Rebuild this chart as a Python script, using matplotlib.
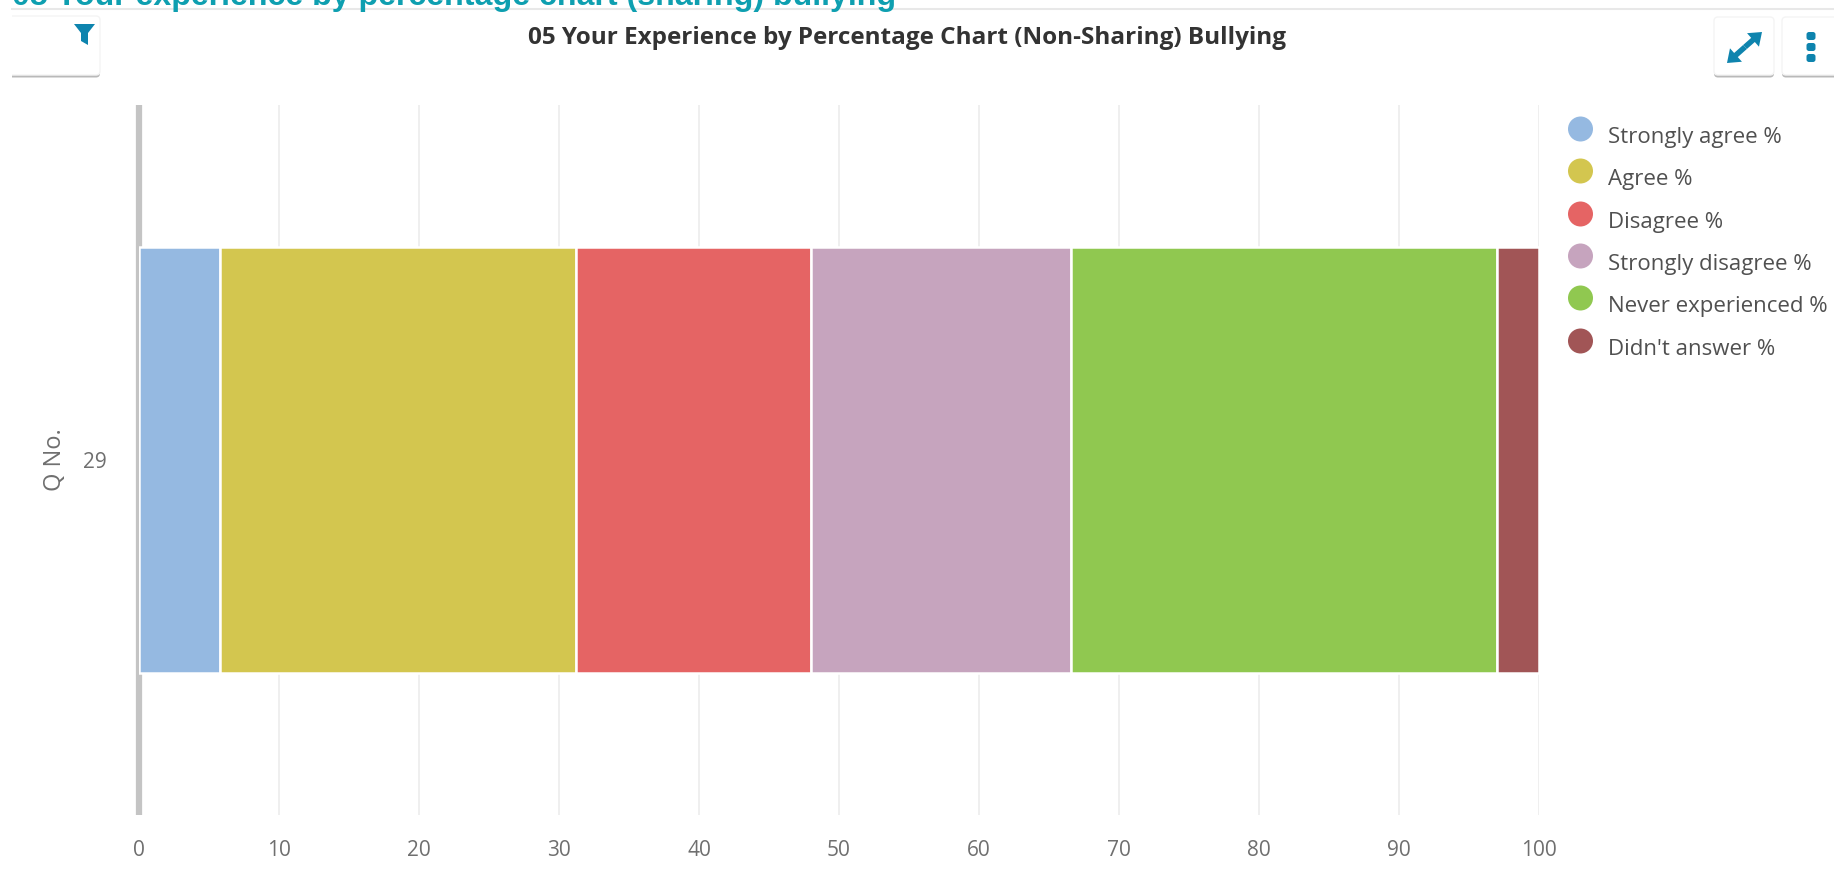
import numpy as np
from matplotlib import pyplot as plt
from matplotlib.patches import FancyBboxPatch, Polygon, FancyArrow, Circle

plt.rcParams['font.family'] = ['Open Sans', 'DejaVu Sans']

W, H = 1834, 871

categories = ['29']
series_names = ['Strongly agree %', 'Agree %', 'Disagree %', 'Strongly disagree %',
                'Never experienced %', "Didn't answer %"]
series_values = [5.8, 25.4, 16.8, 18.6, 30.4, 3.0]
series_colors = ['#95B9E1', '#D3C64F', '#E56464', '#C6A4BE', '#90C850', '#A15556']
x_ticks = list(range(0, 101, 10))

fig = plt.figure(figsize=(W / 100, H / 100), dpi=100, facecolor='white')

# page furniture, in pixel coordinates
bg = fig.add_axes([0, 0, 1, 1], zorder=0)
bg.set_xlim(0, W)
bg.set_ylim(H, 0)
bg.axis('off')


def button(x0, y0, x1, y1):
    bg.add_patch(FancyBboxPatch((x0, y0 + 2.5), x1 - x0, y1 - y0, boxstyle='round,pad=0,rounding_size=4',
                                fc='#a8a8a8', ec='none', alpha=0.8))
    bg.add_patch(FancyBboxPatch((x0, y0), x1 - x0, y1 - y0, boxstyle='round,pad=0,rounding_size=4',
                                fc='white', ec='#f4f4f4', lw=1))


bg.plot([12, W], [9, 9], color='#e8e8e8', lw=1.5)
button(-10, 16, 100, 75)
button(1714, 17, 1774, 75)
button(1782, 17, 1850, 75)
# the left part of the filter button is cut away in the reference
bg.fill_between([-12, 12], 10, 85, color='white', lw=0, zorder=2.5)
bg.text(12, 5, '05 Your experience by percentage chart (sharing) bullying', color='#0E9FB0',
        fontsize=23.15, fontweight='bold', family=['Liberation Sans'], va='baseline', clip_on=True)

teal = '#0E84AE'
bg.add_patch(Polygon([[74, 24], [95, 24], [88, 33], [88, 45], [81, 41], [81, 33]], fc=teal, ec='none'))
bg.add_patch(FancyArrow(1745, 47, 17, -15, width=5.5, head_width=18, head_length=12,
                        length_includes_head=True, fc=teal, ec='none'))
bg.add_patch(FancyArrow(1745, 47, -18, 16, width=5.5, head_width=18, head_length=12,
                        length_includes_head=True, fc=teal, ec='none'))
for yy in [36, 47, 58]:
    bg.add_patch(FancyBboxPatch((1806.5, yy - 4), 9, 8, boxstyle='round,pad=0,rounding_size=2.5',
                                fc=teal, ec='none'))

# chart
ax = fig.add_axes([139 / W, 1 - 815 / H, 1400 / W, 710 / H], zorder=1)
ax.patch.set_alpha(0)
left = 0
for name, val, col in zip(series_names, series_values, series_colors):
    ax.barh(categories, val, left=left, height=0.6, color=col, edgecolor='white', linewidth=1.8,
            label=name, zorder=3)
    left += val

ax.set_xlim(0, 100)
ax.set_ylim(-0.5, 0.5)
ax.set_xticks(x_ticks)
ax.grid(axis='x', color='#efefef', lw=1.4, zorder=0)
for s in ['top', 'right', 'bottom']:
    ax.spines[s].set_visible(False)
ax.spines['left'].set_color('#c4c4c4')
ax.spines['left'].set_linewidth(4.5)
ax.spines['left'].set_capstyle('butt')
ax.spines['left'].set_zorder(2)
ax.tick_params(axis='both', length=0, labelsize=15, labelcolor='#6f6f6f')
ax.tick_params(axis='x', pad=18)
ax.tick_params(axis='y', pad=23)
ax.set_ylabel('Q No.', fontsize=17, color='#6f6f6f', labelpad=12, y=0.5)

# title sits on the page, not the plot area
bg.text(907, 38, '05 Your Experience by Percentage Chart (Non-Sharing) Bullying', ha='center', va='center',
        fontsize=17.5, fontweight='bold', color='#333333')

# legend
leg_y = [137, 179, 222, 264, 306, 349]
for name, col, yy in zip(series_names, series_colors, leg_y):
    bg.add_patch(Circle((1580.5, yy - 8), 12.5, fc=col, ec='none'))
    bg.text(1608, yy, name, fontsize=16, color='#505050', va='center')

fig.savefig('out.png', dpi=100)
